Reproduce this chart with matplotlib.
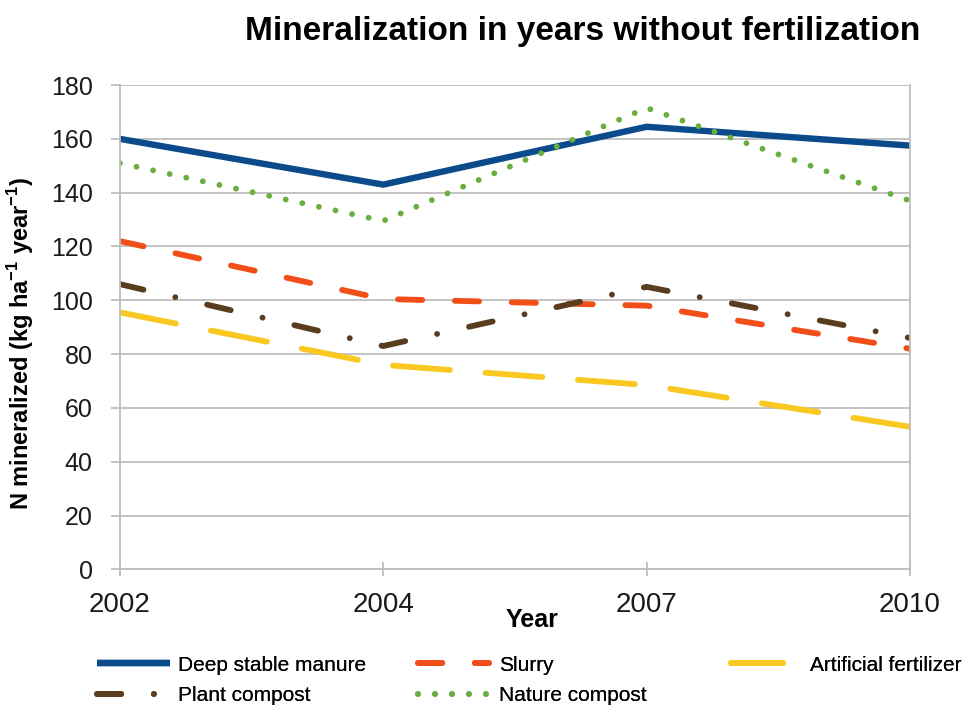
import matplotlib
matplotlib.use('Agg')
import matplotlib.pyplot as plt

plt.rcParams['font.family'] = ['Liberation Sans', 'DejaVu Sans']

# data
years = ['2002', '2004', '2007', '2010']
deep_stable = [160, 143, 164.5, 157.5]
slurry = [122, 100.5, 98, 82]
artificial = [95.5, 76, 68.5, 53]
plant_compost = [106, 83, 105, 86]
nature_compost = [151, 129.5, 171.5, 137]

x = range(len(years))

fig = plt.figure(figsize=(9.67, 7.09), dpi=100)
ax = fig.add_axes([0.124, 0.197, 0.817, 0.683])

lw = 4.2
l_deep, = ax.plot(x, deep_stable, color='#0B4A8B', lw=4.6, solid_capstyle='butt',
                  label='Deep stable manure')
l_slurry, = ax.plot(x, slurry, color='#F24E1A', lw=lw, dash_capstyle='round',
                    dashes=(4.15, 5.6), label='Slurry')
l_art, = ax.plot(x, artificial, color='#F9C922', lw=lw, dash_capstyle='round',
                 dashes=(9.8, 6.1), label='Artificial fertilizer')
l_plant, = ax.plot(x, plant_compost, color='#5A3D1E', lw=lw, dash_capstyle='round',
                   dashes=(4.15, 5.6, 0.01, 5.6), label='Plant compost')
l_nat, = ax.plot(x, nature_compost, color='#6AAE3E', lw=lw, dash_capstyle='round',
                 dashes=(0.01, 2.9), label='Nature compost')

ax.set_xlim(0, 3)
ax.set_ylim(0, 180)
ax.set_yticks(range(0, 181, 20))
ax.set_xticks(list(x))
ax.set_xticklabels(years)
ax.yaxis.grid(True, color='#BEBEBE', lw=1.3)
ax.set_axisbelow(True)
ax.spines['top'].set_visible(False)
for s in ['left', 'bottom', 'right']:
    ax.spines[s].set_color('#BEBEBE')
    ax.spines[s].set_linewidth(1.3)
ax.tick_params(axis='both', colors='#BEBEBE', width=1.3, labelcolor='#1A1A1A')
ax.tick_params(axis='y', length=6.5, pad=13, labelsize=18)
ax.tick_params(axis='x', direction='inout', length=10, pad=11, labelsize=20)

ax.set_xlabel('Year', fontsize=18, fontweight='bold')
ax.xaxis.set_label_coords(0.522, -0.08)
ax.set_ylabel('N mineralized (kg ha$^{\\mathregular{-1}}$ year$^{\\mathregular{-1}}$)',
              fontsize=17, fontweight='bold')
ax.yaxis.set_label_coords(-0.106, 0.467)
fig.text(0.603, 0.955, 'Mineralization in years without fertilization',
         fontsize=24, fontweight='bold', ha='center', va='center')

# three legend columns placed like the reference
cols = [([l_deep, l_plant], 0.09, 3.5, 0.35),
        ([l_slurry, l_nat], 0.422, 3.4, 0.45),
        ([l_art], 0.745, 2.5, 1.3)]
for hs, x0, hl, pad in cols:
    lg = fig.legend(hs, [h.get_label() for h in hs], loc='upper left',
                    bbox_to_anchor=(x0, 0.09), frameon=False, fontsize=15,
                    handlelength=hl, handletextpad=pad, labelspacing=0.55,
                    borderpad=0)
    fig.add_artist(lg)

fig.savefig('out.png', dpi=100)
